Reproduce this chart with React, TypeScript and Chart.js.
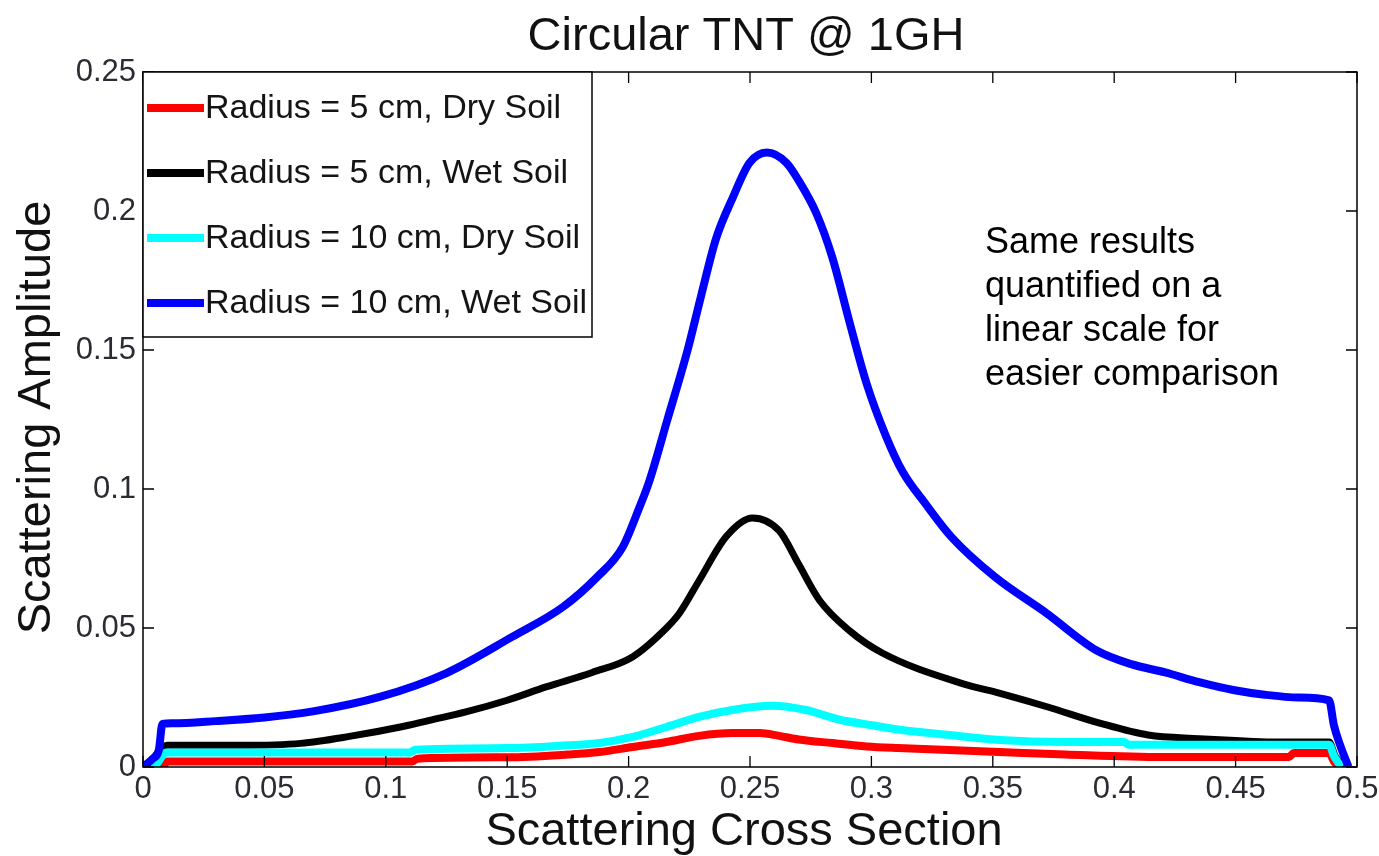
import React, { useEffect, useRef } from "react";
import { Chart, registerables } from "chart.js";

Chart.register(...registerables);

// ---------- data ----------
const xRedDry = [0, 0.008, 0.01, 0.111, 0.113, 0.15, 0.175, 0.188, 0.2016, 0.2156, 0.229, 0.2427, 0.254, 0.262, 0.27, 0.284, 0.298, 0.311, 0.35, 0.38, 0.42, 0.472, 0.474, 0.4885, 0.4905, 0.4925];
const yRedDry = [0, 0, 0.002, 0.002, 0.003, 0.0035, 0.0045, 0.0054, 0.0072, 0.009, 0.0112, 0.0122, 0.0122, 0.0112, 0.0099, 0.0086, 0.0074, 0.0068, 0.0055, 0.0045, 0.0036, 0.0036, 0.005, 0.005, 0.002, 0];

const xBlackWet = [0, 0.004, 0.008, 0.01, 0.04, 0.065, 0.085, 0.106, 0.118, 0.133, 0.15, 0.166, 0.185, 0.2016, 0.2156, 0.221, 0.229, 0.2403, 0.251, 0.262, 0.27, 0.2786, 0.291, 0.3045, 0.3375, 0.353, 0.373, 0.394, 0.414, 0.435, 0.45, 0.465, 0.4885, 0.491, 0.4945];
const yBlackWet = [0, 0.003, 0.007, 0.0078, 0.0078, 0.0085, 0.011, 0.0144, 0.0168, 0.0198, 0.024, 0.0288, 0.034, 0.0396, 0.05, 0.0554, 0.067, 0.083, 0.0896, 0.085, 0.073, 0.06, 0.049, 0.041, 0.03, 0.0265, 0.0215, 0.0158, 0.0115, 0.0102, 0.0095, 0.009, 0.009, 0.004, 0];

const xCyanDry = [0, 0.004, 0.009, 0.01, 0.11, 0.112, 0.15, 0.175, 0.188, 0.2016, 0.2156, 0.229, 0.2427, 0.259, 0.273, 0.287, 0.3004, 0.311, 0.332, 0.353, 0.38, 0.404, 0.406, 0.4885, 0.4905, 0.4935];
const yCyanDry = [0, 0, 0.005, 0.0052, 0.0052, 0.0062, 0.0068, 0.0078, 0.0086, 0.0108, 0.0144, 0.018, 0.0205, 0.022, 0.0205, 0.017, 0.015, 0.0135, 0.0115, 0.0097, 0.009, 0.009, 0.008, 0.008, 0.004, 0];

const xBlueWet = [0, 0.004, 0.0065, 0.008, 0.012, 0.03, 0.05, 0.07, 0.0975, 0.125, 0.152, 0.173, 0.187, 0.1975, 0.2045, 0.2086, 0.216, 0.2243, 0.23, 0.236, 0.243, 0.2498, 0.257, 0.265, 0.27, 0.2774, 0.284, 0.291, 0.298, 0.306, 0.313, 0.322, 0.333, 0.351, 0.372, 0.3926, 0.407, 0.421, 0.435, 0.449, 0.462, 0.476, 0.4885, 0.4905, 0.493, 0.4965];
const yBlueWet = [0, 0.003, 0.006, 0.0155, 0.0157, 0.0165, 0.0178, 0.02, 0.0252, 0.0338, 0.0468, 0.0576, 0.0683, 0.079, 0.0935, 0.103, 0.125, 0.15, 0.17, 0.19, 0.205, 0.2173, 0.221, 0.2173, 0.211, 0.199, 0.183, 0.16, 0.138, 0.119, 0.106, 0.095, 0.0827, 0.0683, 0.0554, 0.042, 0.037, 0.034, 0.0305, 0.0277, 0.026, 0.025, 0.024, 0.015, 0.008, 0];

const seriesLabels = [
  "Radius = 5 cm, Dry Soil",
  "Radius = 5 cm, Wet Soil",
  "Radius = 10 cm, Dry Soil",
  "Radius = 10 cm, Wet Soil",
];
const seriesColors = ["#ff0000", "#000000", "#00ffff", "#0000ff"];

const chartTitle = "Circular TNT @ 1GH";
const xAxisTitle = "Scattering Cross Section";
const yAxisTitle = "Scattering Amplitude";
const noteLines = ["Same results", "quantified on a", "linear scale for", "easier comparison"];

const FONT = "'Liberation Sans', Arial, Helvetica, sans-serif";

const toPoints = (xs: number[], ys: number[]) => xs.map((x, i) => ({ x, y: ys[i] }));
const fmt = (v: number) => String(Number(Number(v).toFixed(2)));

const decorPlugin = {
  id: "decor",
  beforeDraw(chart: any) {
    const ctx = chart.ctx;
    ctx.save();
    ctx.fillStyle = "#ffffff";
    ctx.fillRect(0, 0, chart.width, chart.height);
    ctx.restore();
  },
  afterDatasetsDraw(chart: any) {
    const { ctx, chartArea: a, scales } = chart;
    ctx.save();
    // axes box
    ctx.strokeStyle = "#000";
    ctx.lineWidth = 1.5;
    ctx.strokeRect(a.left, a.top, a.right - a.left, a.bottom - a.top);
    // inward ticks on all sides
    const tl = 11;
    ctx.lineWidth = 1.3;
    ctx.beginPath();
    scales.x.ticks.forEach((t: any) => {
      const px = scales.x.getPixelForValue(t.value);
      ctx.moveTo(px, a.bottom);
      ctx.lineTo(px, a.bottom - tl);
      ctx.moveTo(px, a.top);
      ctx.lineTo(px, a.top + tl);
    });
    scales.y.ticks.forEach((t: any) => {
      const py = scales.y.getPixelForValue(t.value);
      ctx.moveTo(a.left, py);
      ctx.lineTo(a.left + tl, py);
      ctx.moveTo(a.right, py);
      ctx.lineTo(a.right - tl, py);
    });
    ctx.stroke();

    // legend
    const lx = a.left;
    const ly = a.top;
    const lw = 592 - a.left;
    const lh = 337 - a.top;
    ctx.fillStyle = "#fff";
    ctx.fillRect(lx, ly, lw, lh);
    ctx.strokeStyle = "#000";
    ctx.lineWidth = 1.5;
    ctx.strokeRect(lx, ly, lw, lh);
    ctx.font = `34px ${FONT}`;
    ctx.textBaseline = "middle";
    ctx.textAlign = "left";
    chart.data.datasets.forEach((ds: any, i: number) => {
      const ry = ly + 36 + i * 65;
      ctx.strokeStyle = ds.borderColor;
      ctx.lineWidth = 8;
      ctx.beginPath();
      ctx.moveTo(lx + 4, ry);
      ctx.lineTo(lx + 61, ry);
      ctx.stroke();
      ctx.fillStyle = "#141414";
      ctx.fillText(ds.label, lx + 62, ry + 1);
    });

    // annotation
    ctx.fillStyle = "#000";
    ctx.font = `36px ${FONT}`;
    ctx.textBaseline = "alphabetic";
    noteLines.forEach((s, i) => ctx.fillText(s, 985, 253 + i * 44));

    // chart title
    const cx = (a.left + a.right) / 2 - 4;
    ctx.textAlign = "center";
    ctx.fillStyle = "#111";
    ctx.font = `47px ${FONT}`;
    ctx.fillText(chartTitle, cx, 50);
    // x-axis title
    ctx.fillText(xAxisTitle, cx - 2, 845);
    // y-axis title
    ctx.save();
    ctx.translate(50, (a.top + a.bottom) / 2 - 2);
    ctx.rotate(-Math.PI / 2);
    ctx.fillText(yAxisTitle, 0, 0);
    ctx.restore();

    ctx.restore();
  },
};

export default function App() {
  const ref = useRef<HTMLCanvasElement | null>(null);

  useEffect(() => {
    if (!ref.current) return;
    const series = [
      toPoints(xRedDry, yRedDry),
      toPoints(xBlackWet, yBlackWet),
      toPoints(xCyanDry, yCyanDry),
      toPoints(xBlueWet, yBlueWet),
    ];
    const widths = [8, 7, 8, 8];
    const chart = new Chart(ref.current, {
      type: "line",
      data: {
        datasets: series.map((d, i) => ({
          label: seriesLabels[i],
          data: d,
          borderColor: seriesColors[i],
          backgroundColor: seriesColors[i],
          borderWidth: widths[i],
          pointRadius: 0,
          cubicInterpolationMode: "monotone" as const,
          fill: false,
          clip: 0,
          order: 3 - i,
          borderJoinStyle: "round" as const,
        })),
      },
      options: {
        animation: false,
        responsive: false,
        events: [],
        layout: { padding: { top: 72, right: 22, bottom: 0, left: 0 } },
        plugins: {
          legend: { display: false },
          title: { display: false },
          tooltip: { enabled: false },
        },
        scales: {
          x: {
            type: "linear",
            min: 0,
            max: 0.5,
            grid: { display: false, drawTicks: false },
            border: { display: false },
            ticks: {
              stepSize: 0.05,
              maxRotation: 0,
              autoSkip: false,
              padding: 4,
              color: "#2b2b33",
              font: { family: FONT, size: 31 },
              callback: (v: any) => fmt(v),
            },
            afterFit: (s: any) => {
              s.height = 89;
              s.paddingLeft = 0;
              s.paddingRight = 0;
            },
          },
          y: {
            type: "linear",
            min: 0,
            max: 0.25,
            grid: { display: false, drawTicks: false },
            border: { display: false },
            ticks: {
              stepSize: 0.05,
              padding: 7,
              color: "#2b2b33",
              font: { family: FONT, size: 31 },
              callback: (v: any) => fmt(v),
            },
            afterFit: (s: any) => {
              s.width = 143;
              s.paddingTop = 0;
              s.paddingBottom = 0;
            },
          },
        },
      },
      plugins: [decorPlugin],
    });
    return () => chart.destroy();
  }, []);

  return (
    <div style={{ position: "absolute", left: 0, top: 0, width: 1379, height: 856, background: "#fff" }}>
      <canvas ref={ref} width={1379} height={856} style={{ display: "block", width: 1379, height: 856 }} />
    </div>
  );
}
